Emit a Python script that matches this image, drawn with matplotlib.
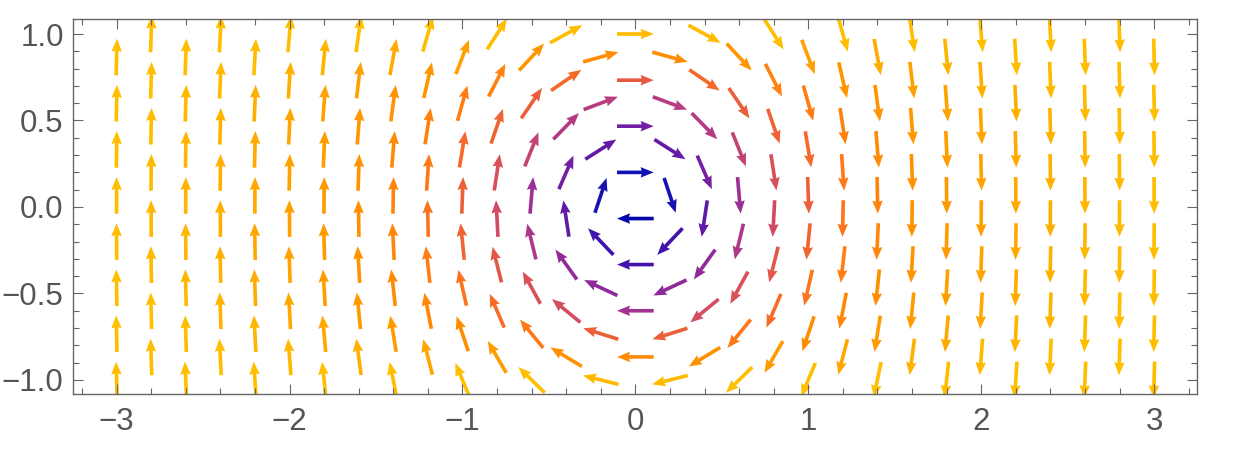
import numpy as np
import matplotlib
matplotlib.use("Agg")
import matplotlib.pyplot as plt
from matplotlib.colors import LinearSegmentedColormap, Normalize
from matplotlib.ticker import MultipleLocator, FixedLocator, FixedFormatter

# ---- data ----
# column positions (x) and the vertical velocity component for each column
col_x = [-3.0, -2.8, -2.6, -2.4, -2.2, -2.0, -1.8, -1.6, -1.4, -1.2, -1.0,
         -0.8, -0.6, -0.4, -0.2, 0.0, 0.2, 0.4, 0.6, 0.8, 1.0,
         1.2, 1.4, 1.6, 1.8, 2.0, 2.2, 2.4, 2.6, 2.8, 3.0]
col_vy = [30.0, 24.75, 20.18, 16.22, 12.85, 10.0, 7.63, 5.70, 4.14, 2.93, 2.0,
          1.31, 0.82, 0.46, 0.21, 0.0, -0.21, -0.46, -0.82, -1.31, -2.0,
          -2.93, -4.14, -5.70, -7.63, -10.0, -12.85, -16.22, -20.18, -24.75, -30.0]
# row positions (y, staggered grid) and the horizontal velocity component per row
row_y = [-1.0, -0.867, -0.733, -0.6, -0.467, -0.333, -0.2, -0.067,
         0.067, 0.2, 0.333, 0.467, 0.6, 0.733, 0.867, 1.0]
row_vx = [-0.84, -0.76, -0.67, -0.56, -0.45, -0.33, -0.20, -0.07,
          0.07, 0.20, 0.33, 0.45, 0.56, 0.67, 0.76, 0.84]
# colour "strength" contributed by column and by row
col_tone = [abs(v) for v in col_x]
row_tone = [2.8, 1.5, 0.95, 0.64, 0.48, 0.33, 0.2, 0.067,
            0.067, 0.2, 0.33, 0.48, 0.64, 0.95, 1.5, 2.8]

x_ticks = [-3, -2, -1, 0, 1, 2, 3]
x_labels = ["\u22123", "\u22122", "\u22121", "0", "1", "2", "3"]
y_ticks = [-1.0, -0.5, 0.0, 0.5, 1.0]
y_labels = ["\u22121.0", "\u22120.5", "0.0", "0.5", "1.0"]

# ---- build arrow set (staggered grid: even columns use even rows) ----
X, Y, U, V, C = [], [], [], [], []
for i, x in enumerate(col_x):
    for j in range(i % 2, len(row_y), 2):
        X.append(x)
        Y.append(row_y[j])
        U.append(row_vx[j])
        V.append(col_vy[i])
        C.append((col_tone[i] ** 1.5 + row_tone[j] ** 1.5) ** (1 / 1.5))
X, Y, U, V, C = map(np.array, (X, Y, U, V, C))
L = 0.212
mag = np.hypot(U, V)
U = U / mag * L
V = V / mag * L

stops = [(0.0, "#0000AA"), (0.2, "#1010B4"), (0.35, "#4C14AA"), (0.5, "#7A22A2"),
         (0.65, "#A8348E"), (0.8, "#D04A68"), (1.0, "#EC5E3A"), (1.25, "#FF7818"),
         (1.6, "#FF9000"), (2.0, "#FFA000"), (2.5, "#FFB200"), (3.0, "#FFBE00")]
cmap = LinearSegmentedColormap.from_list("vec", [(m / 3.0, c) for m, c in stops])

fig = plt.figure(figsize=(12.35, 4.73), dpi=100)
ax = fig.add_axes([0.0594, 0.1664, 0.9101, 0.7928])
ax.quiver(X, Y, U, V, C, cmap=cmap, norm=Normalize(0, 3, clip=True),
          angles="xy", scale_units="xy", scale=1, pivot="mid", units="xy",
          width=0.021, headwidth=2.9, headlength=3.6, headaxislength=3.3)

ax.set_xlim(-3.25, 3.25)
ax.set_ylim(-1.083, 1.085)

ax.xaxis.set_major_locator(FixedLocator(x_ticks))
ax.xaxis.set_major_formatter(FixedFormatter(x_labels))
ax.yaxis.set_major_locator(FixedLocator(y_ticks))
ax.yaxis.set_major_formatter(FixedFormatter(y_labels))
ax.xaxis.set_minor_locator(MultipleLocator(0.2))
ax.yaxis.set_minor_locator(MultipleLocator(0.1))
ax.tick_params(which="both", direction="in", top=True, right=True,
               color="#666666", width=0.8)
ax.tick_params(which="major", length=7.2)
ax.tick_params(which="minor", length=4.2)
ax.tick_params(axis="x", which="major", pad=9)
ax.tick_params(axis="y", which="major", pad=7)
for lab in ax.get_xticklabels() + ax.get_yticklabels():
    lab.set_fontfamily(["Liberation Sans", "DejaVu Sans"])
    lab.set_fontsize(22.5)
    lab.set_color("#555555")
for s in ax.spines.values():
    s.set_color("#666666")
    s.set_linewidth(1.0)

fig.savefig("out.png", dpi=100)
